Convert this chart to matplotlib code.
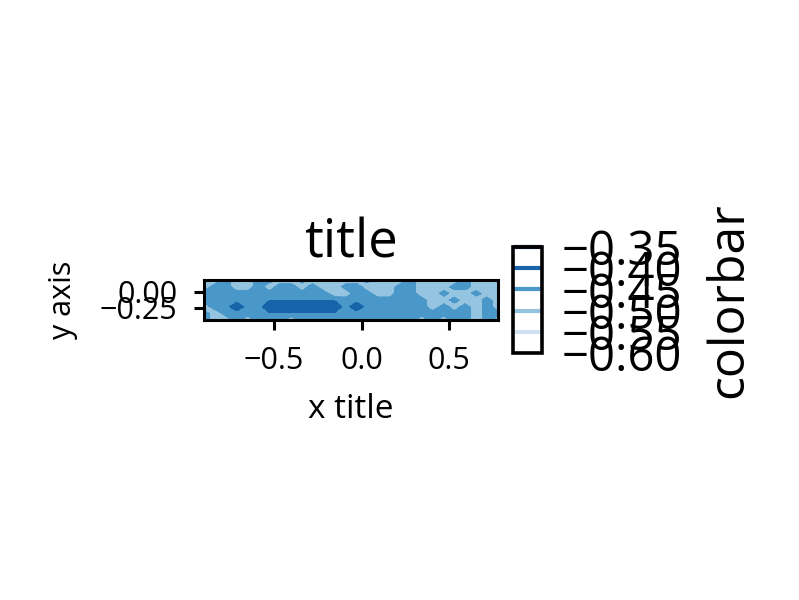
import numpy as np
import matplotlib
matplotlib.use("Agg")
import matplotlib.pyplot as plt

plt.rcParams['font.family'] = ['Open Sans', 'DejaVu Sans']
plt.rcParams['axes.linewidth'] = 1.1
plt.rcParams['xtick.major.width'] = 1.1
plt.rcParams['ytick.major.width'] = 1.1

# grid of sample positions (data coordinates)
x_values = np.linspace(-0.90, 0.78, 28)
y_values = np.linspace(0.18, -0.445, 7)

L, M, d, D = -0.51, -0.445, -0.43, -0.39
z_rows = [
    [L, L, M, L, L, M, M, L, L, M, L, L, L, L, L, M, L, L, L, M, L, L, L, L, M, L, L, L],
    [L, M, M, L, L, M, L, M, M, L, M, L, L, M, M, L, L, L, M, M, L, L, L, M, M, L, L, L],
    [M, M, M, M, M, M, M, M, M, M, M, M, L, L, M, M, L, L, M, M, L, L, M, L, L, M, L, L],
    [M, M, M, M, M, M, d, d, d, d, d, d, d, M, M, M, M, M, M, M, M, L, L, M, L, L, M, L],
    [L, M, M, D, M, M, D, D, D, D, D, D, D, M, D, M, M, M, M, M, M, L, M, L, M, L, M, L],
    [M, L, M, M, M, M, d, d, d, d, d, d, d, M, M, M, M, M, M, M, M, M, M, M, M, L, M, M],
    [M, L, L, M, L, M, M, M, L, M, M, M, M, M, M, M, M, M, M, M, L, M, L, M, M, L, M, L],
]

fill_levels = [-0.525, -0.475, -0.425, -0.375]
line_levels = [-0.60, -0.55, -0.50, -0.45, -0.40, -0.35]
x_ticks = [-0.5, 0.0, 0.5]
y_ticks = [0.0, -0.25]

X, Y = np.meshgrid(x_values, y_values)
Z = np.array(z_rows)

fig = plt.figure(figsize=(3.995, 3.0), dpi=200)
ax = fig.add_axes([204 / 799, 1 - 320 / 600, 294 / 799, 40 / 600])
cax = fig.add_axes([513 / 799, 1 - 353 / 600, 29 / 799, 106 / 600])

ax.contourf(X, Y, Z, levels=fill_levels, cmap='Blues', vmin=-0.60, vmax=-0.35,
            extend='both')
cs = ax.contour(X, Y, Z, levels=line_levels, cmap='Blues', linewidths=0.8)
ax.set_xlim(-0.90, 0.78)
ax.set_ylim(-0.445, 0.18)
ax.set_xticks(x_ticks)
ax.set_yticks(y_ticks)
ax.tick_params(labelsize=11, pad=6)
ax.set_title('title', fontsize=19, pad=8)
ax.set_xlabel('x title', fontsize=12, labelpad=6)
ax.set_ylabel('y axis', fontsize=11, labelpad=8)

cb = fig.colorbar(cs, cax=cax)
cs.set_linewidth(1.5)
cb.add_lines(cs, erase=True)
cb.outline.set_linewidth(1.3)
cb.ax.tick_params(labelsize=17, length=0, pad=7)
cb.set_label('colorbar', fontsize=18, labelpad=8)

fig.savefig('out.png', dpi=200)
